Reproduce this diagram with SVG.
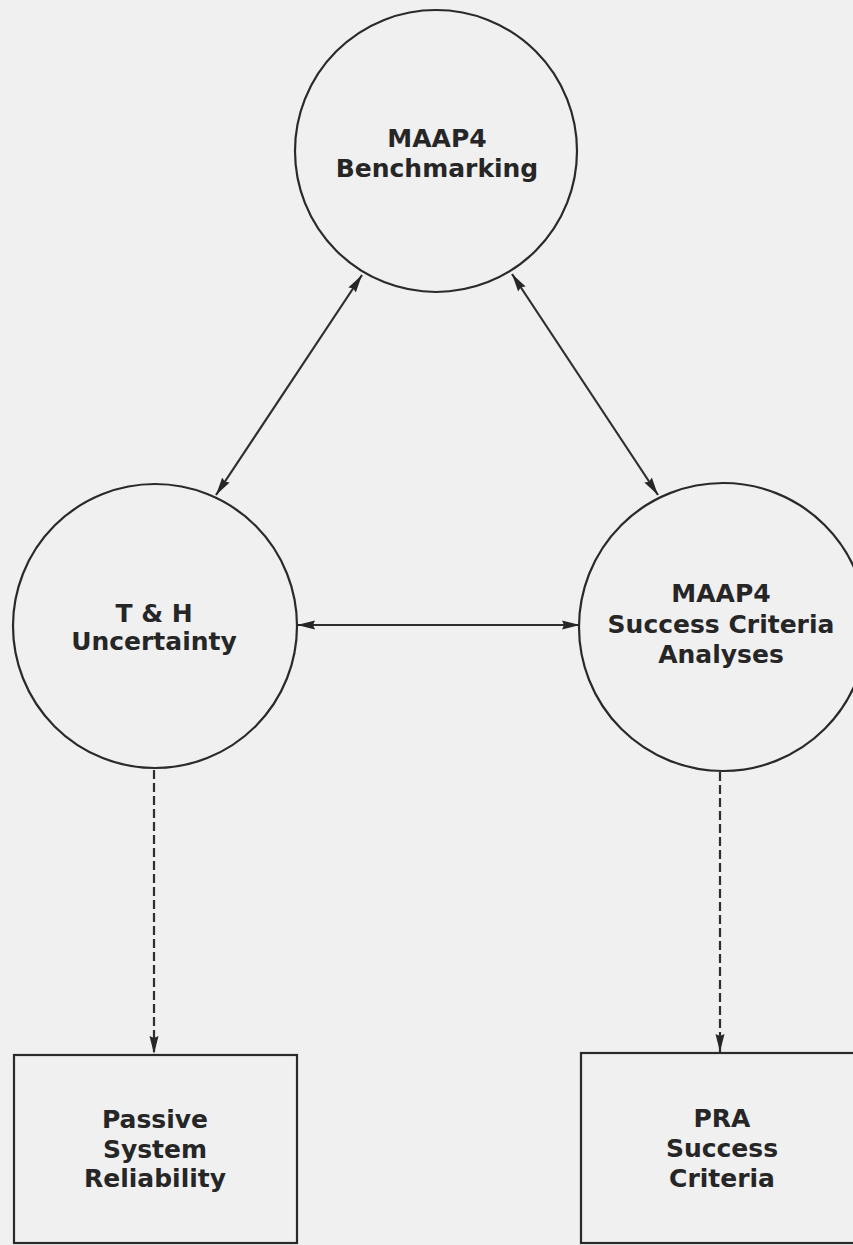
<svg xmlns="http://www.w3.org/2000/svg" width="853" height="1245" viewBox="0 0 853 1245">
<style>
.node{fill:none;stroke:#2a2a2a;stroke-width:2.2}
.lbl{font-family:"DejaVu Sans",sans-serif;font-weight:bold;font-size:25px;fill:#262626;text-anchor:middle}
.con{fill:none;stroke:#2e2e2e;stroke-width:2.2}
.dash{stroke-dasharray:9 4}
</style>
<defs>
<marker id="ah" viewBox="0 0 18 10" refX="18" refY="5" markerWidth="18" markerHeight="10" markerUnits="userSpaceOnUse" orient="auto-start-reverse">
<path d="M0,0.5 L18,5 L0,9.5 L2,5 Z" fill="#262626"/>
</marker>
</defs>
<rect width="853" height="1245" fill="#f0f0f0"/>
<g id="connectors">
<line class="con" x1="362" y1="275" x2="216" y2="495" marker-start="url(#ah)" marker-end="url(#ah)"/>
<line class="con" x1="512" y1="274" x2="658" y2="495" marker-start="url(#ah)" marker-end="url(#ah)"/>
<line class="con" x1="297" y1="625" x2="580" y2="625" marker-start="url(#ah)" marker-end="url(#ah)"/>
<line class="con dash" x1="154" y1="770" x2="154" y2="1054" marker-end="url(#ah)"/>
<line class="con dash" x1="720" y1="772" x2="720" y2="1052" marker-end="url(#ah)"/>
</g>
<g id="benchmarking">
<circle class="node" cx="436" cy="151" r="141"/>
<text class="lbl" x="437" y="147">MAAP4</text>
<text class="lbl" x="437" y="177">Benchmarking</text>
</g>
<g id="th-uncertainty">
<circle class="node" cx="155" cy="626" r="142"/>
<text class="lbl" x="154" y="622" font-size="24">T &amp; H</text>
<text class="lbl" x="154" y="650" font-size="24">Uncertainty</text>
</g>
<g id="success-criteria-analyses">
<circle class="node" cx="723" cy="627" r="144"/>
<text class="lbl" x="721" y="602">MAAP4</text>
<text class="lbl" x="721" y="633">Success Criteria</text>
<text class="lbl" x="721" y="663">Analyses</text>
</g>
<g id="passive-system-reliability">
<rect class="node" x="14" y="1055" width="283" height="188"/>
<text class="lbl" x="155" y="1128" font-size="24">Passive</text>
<text class="lbl" x="155" y="1158" font-size="24">System</text>
<text class="lbl" x="155" y="1187" font-size="24">Reliability</text>
</g>
<g id="pra-success-criteria">
<rect class="node" x="581" y="1053" width="290" height="190"/>
<text class="lbl" x="722" y="1127" font-size="24">PRA</text>
<text class="lbl" x="722" y="1157" font-size="24">Success</text>
<text class="lbl" x="722" y="1187" font-size="24">Criteria</text>
</g>
</svg>
